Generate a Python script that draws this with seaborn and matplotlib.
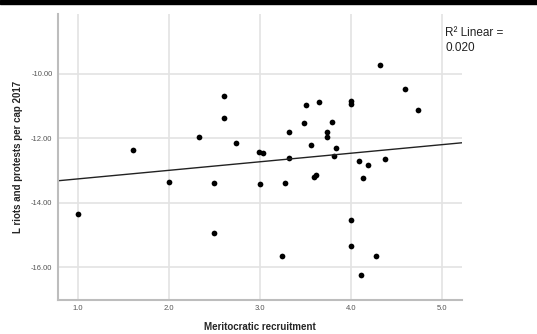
import matplotlib

matplotlib.use("Agg")
import matplotlib.pyplot as plt
import numpy as np
import pandas as pd
import seaborn as sns

# Values
meritocratic = [
    1.00, 1.60, 2.00, 2.50, 2.50, 3.00, 2.33, 2.60, 2.60, 2.74,
    2.99, 3.03, 4.32, 4.60, 4.74, 4.00, 4.00, 3.65, 3.51, 3.49,
    3.79, 3.74, 3.74, 3.32, 3.56, 3.84, 3.82, 3.32, 4.09, 4.19,
    4.38, 3.28, 3.59, 3.62, 4.13, 4.00, 4.00, 3.24, 4.28, 4.11,
]
riots = [
    -14.34, -12.36, -13.37, -13.39, -14.95, -13.43, -11.97, -10.68, -11.37, -12.15,
    -12.43, -12.47, -9.71, -10.46, -11.13, -10.84, -10.92, -10.86, -10.96, -11.51,
    -11.49, -11.80, -11.95, -11.81, -12.21, -12.30, -12.54, -12.62, -12.69, -12.83,
    -12.63, -13.40, -13.21, -13.14, -13.22, -14.54, -15.34, -15.65, -15.67, -16.24,
]
x_ticks = [1.0, 2.0, 3.0, 4.0, 5.0]
y_ticks = [-10.0, -12.0, -14.0, -16.0]
r2_text = "R\u00b2 Linear =\n0.020"

df = pd.DataFrame({"meritocratic": meritocratic, "riots": riots})

sns.set_style("white")
plt.rcParams["font.family"] = ["Liberation Sans", "DejaVu Sans"]

fig = plt.figure(figsize=(5.37, 3.34), dpi=100)
ax = fig.add_axes([0.108, 0.102, 0.752, 0.856])

# limits first so the fit line (truncate=False) spans the whole axis
ax.set_xlim(0.78, 5.22)
ax.set_ylim(-17.02, -8.14)

sns.regplot(
    data=df, x="meritocratic", y="riots", ax=ax, ci=None, truncate=False,
    scatter_kws={"s": 17, "color": "black", "linewidths": 0, "alpha": 1},
    line_kws={"color": "#222222", "linewidth": 1.0},
)

ax.set_xlim(0.78, 5.22)
ax.set_ylim(-17.02, -8.14)
ax.set_xticks(x_ticks)
ax.set_yticks(y_ticks)
ax.set_xticklabels([f"{v:.1f}" for v in x_ticks])
ax.set_yticklabels([f"{v:.2f}" for v in y_ticks])
ax.tick_params(labelsize=5.5, colors="#555555", length=0, pad=4)
ax.grid(True, color="#e3e3e3", linewidth=1.2)
ax.set_axisbelow(True)

for side in ("top", "right"):
    ax.spines[side].set_visible(False)
for side in ("left", "bottom"):
    ax.spines[side].set_color("#bdbdbd")
    ax.spines[side].set_linewidth(1.5)

ax.set_xlabel("Meritocratic recruitment", fontsize=7, fontweight="bold", labelpad=7)
ax.set_ylabel("L riots and protests per cap 2017", fontsize=7, fontweight="bold", labelpad=6)

fig.text(0.829, 0.918, r2_text, fontsize=8.5, color="#222222", va="top", ha="left",
         linespacing=1.25)

# black strip at the very top of the screenshot
fig.patches.append(plt.Rectangle((0, 0.987), 1, 0.013, transform=fig.transFigure,
                                 color="black", zorder=10))

fig.savefig("out.png", dpi=100)
